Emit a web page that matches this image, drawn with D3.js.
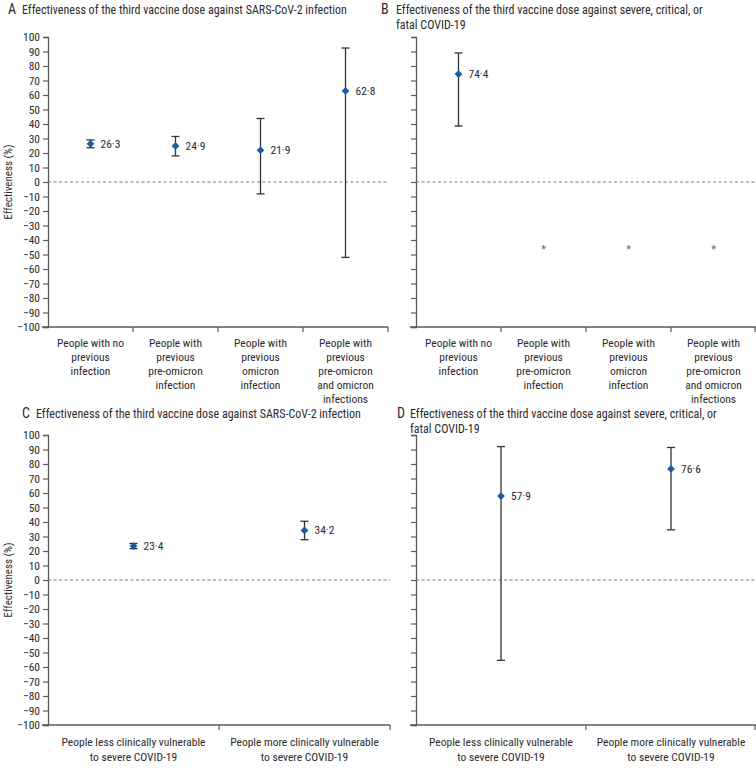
<!DOCTYPE html>
<html><head><meta charset="utf-8">
<script src="https://cdn.jsdelivr.net/npm/d3@7"></script>
<style>
body{margin:0;background:#fff;}
svg{display:block;}
text{font-family:"Liberation Sans Narrow","Arial Narrow","Roboto Condensed","Liberation Sans",sans-serif;}
</style></head>
<body>
<svg id="chart" width="756" height="773"></svg>
<script>
// ---------- data ----------
const infectionCategories = ["People with no\nprevious\ninfection","People with\nprevious\npre-omicron\ninfection","People with\nprevious\nomicron\ninfection","People with\nprevious\npre-omicron\nand omicron\ninfections"];
const vulnCategories = ["People less clinically vulnerable\nto severe COVID-19","People more clinically vulnerable\nto severe COVID-19"];
const yTicks = [100,90,80,70,60,50,40,30,20,10,0,-10,-20,-30,-40,-50,-60,-70,-80,-90,-100];

const aEst = [26.3, 24.9, 21.9, 62.8];
const aLow = [23.6, 18.0, -8.2, -52.0];
const aHigh = [29.0, 31.4, 43.8, 92.4];

const bEst = [74.4, null, null, null];
const bLow = [38.6, null, null, null];
const bHigh = [89.0, null, null, null];
const bNotEstimable = [false, true, true, true];
const asteriskLevel = -45;

const cEst = [23.4, 34.2];
const cLow = [21.6, 27.8];
const cHigh = [25.2, 40.5];

const dEst = [57.9, 76.6];
const dLow = [-55.4, 34.6];
const dHigh = [92.0, 91.4];

const titles = {
  A: ["Effectiveness of the third vaccine dose against SARS-CoV-2 infection"],
  B: ["Effectiveness of the third vaccine dose against severe, critical, or","fatal COVID-19"],
  C: ["Effectiveness of the third vaccine dose against SARS-CoV-2 infection"],
  D: ["Effectiveness of the third vaccine dose against severe, critical, or","fatal COVID-19"]
};

// ---------- drawing ----------
const svg = d3.select("#chart");
const fmt = v => v.toFixed(1).replace(".", "\u00B7");
const axisColor = "#5a5a5a";
const textColor = "#2b2b2b";

function panel(o){
  const g = svg.append("g");
  g.append("text").attr("x", o.letterX).attr("y", o.titleY)
    .attr("font-size", 14).attr("fill", textColor).text(o.letter);
  o.title.forEach((t,i)=>{
    g.append("text").attr("x", o.titleX).attr("y", o.titleY + i*14.5)
      .attr("font-size", 12).attr("fill", textColor).text(t);
  });

  const x = d3.scaleBand().domain(o.cats).range([o.x0, o.x1]);
  const y = d3.scaleLinear().domain([-100, 100]).range([o.y1, o.y0]);

  const ya = d3.axisLeft(y).tickValues(yTicks).tickSize(5).tickPadding(3)
    .tickFormat(o.showY ? (d => String(d).replace("-", "\u2212")) : "");
  const yg = g.append("g").attr("transform", `translate(${o.x0},0)`).call(ya);
  yg.select(".domain").attr("stroke", axisColor).attr("stroke-width", 1.3);
  yg.selectAll(".tick line").attr("stroke", axisColor).attr("stroke-width", 1.2);
  yg.selectAll(".tick text").attr("font-size", 11.5).attr("fill", textColor)
    .style("font-family", "'Liberation Sans Narrow','Roboto Condensed',sans-serif");

  if (o.showY){
    g.append("text")
      .attr("transform", `translate(${o.x0 - 36},${y(0)}) rotate(-90)`)
      .attr("text-anchor","middle").attr("font-size", 11).attr("fill", textColor)
      .text("Effectiveness (%)");
  }

  const bounds = o.cats.map(c => x(c) + x.bandwidth());
  g.append("line").attr("x1", o.x0 - 6).attr("x2", o.x1).attr("y1", o.y1).attr("y2", o.y1)
    .attr("stroke", axisColor).attr("stroke-width", 1.3);
  g.selectAll(".xt").data(bounds).join("line")
    .attr("x1", d => Math.min(d, 755)).attr("x2", d => Math.min(d, 755))
    .attr("y1", o.y1).attr("y2", o.y1 + 5)
    .attr("stroke", axisColor).attr("stroke-width", 1.2);

  o.cats.forEach(c=>{
    const lines = c.split("\n");
    const t = g.append("text").attr("text-anchor","middle").attr("font-size", 11.5).attr("fill", textColor);
    lines.forEach((l,i)=>{
      t.append("tspan").attr("x", x(c) + x.bandwidth()/2).attr("y", o.y1 + o.labelOffset + i*o.labelStep).text(l);
    });
  });

  g.append("line").attr("x1", o.x0).attr("x2", o.x1).attr("y1", y(0)).attr("y2", y(0))
    .attr("stroke", "#5c8595").attr("stroke-width", 1).attr("stroke-dasharray", "3,2.5");

  o.cats.forEach((c,i)=>{
    const cx = x(c) + x.bandwidth()/2;
    if (o.na && o.na[i]){
      g.append("text").attr("x", cx).attr("y", y(asteriskLevel) + 6)
        .attr("text-anchor","middle").attr("font-size", 11).attr("fill", "#666").text("*");
      return;
    }
    const est = o.est[i], lo = o.lo[i], hi = o.hi[i];
    g.append("line").attr("x1", cx).attr("x2", cx).attr("y1", y(lo)).attr("y2", y(hi))
      .attr("stroke", "#333").attr("stroke-width", 1.3);
    [lo, hi].forEach(v=>{
      g.append("line").attr("x1", cx - 4).attr("x2", cx + 4).attr("y1", y(v)).attr("y2", y(v))
        .attr("stroke", "#333").attr("stroke-width", 1.3);
    });
    g.append("path").attr("d", d3.symbol(d3.symbolDiamond2 || d3.symbolDiamond, 38)())
      .attr("transform", `translate(${cx},${y(est)})`).attr("fill", "#1a5aa6");
    g.append("text").attr("x", cx + 10).attr("y", y(est) + 4).attr("font-size", 11.5)
      .attr("fill", textColor).text(fmt(est));
  });
}

panel({letter:"A", letterX:8, titleX:22, titleY:14, title:titles.A, cats:infectionCategories,
  x0:48, x1:388, y0:37, y1:327, showY:true, est:aEst, lo:aLow, hi:aHigh, labelOffset:20, labelStep:14});
panel({letter:"B", letterX:381, titleX:396, titleY:14, title:titles.B, cats:infectionCategories,
  x0:416, x1:756, y0:37, y1:327, showY:false, est:bEst, lo:bLow, hi:bHigh, na:bNotEstimable, labelOffset:20, labelStep:14});
panel({letter:"C", letterX:22, titleX:36, titleY:418, title:titles.C, cats:vulnCategories,
  x0:48, x1:390, y0:435, y1:725, showY:true, est:cEst, lo:cLow, hi:cHigh, labelOffset:21, labelStep:15});
panel({letter:"D", letterX:397, titleX:410, titleY:418, title:titles.D, cats:vulnCategories,
  x0:416, x1:756, y0:435, y1:725, showY:false, est:dEst, lo:dLow, hi:dHigh, labelOffset:21, labelStep:15});
</script>
</body></html>
